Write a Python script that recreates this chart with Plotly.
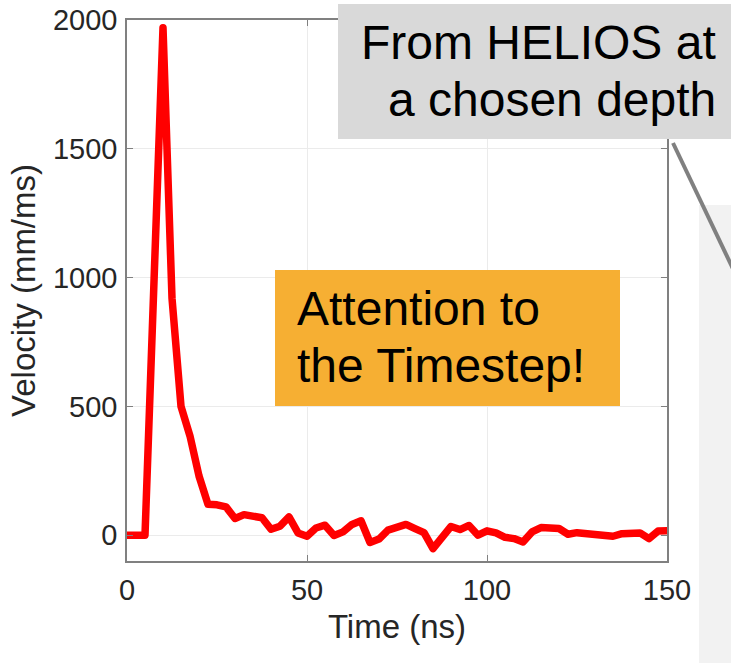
import plotly.graph_objects as go

# Velocity trace sampled at a single depth
time_ns = [0, 5, 10, 12.5, 15, 17.5, 20, 22.5, 25, 27.5, 30, 32.5, 37.5, 40, 42.5,
           45, 47.5, 50, 52.5, 55, 57.5, 60, 62.5, 65, 67.5, 70, 72.5, 77.5, 80,
           82.5, 85, 90, 92.5, 95, 97.5, 100, 102.5, 105, 107.5, 110, 112.5, 115,
           120, 122.5, 125, 130, 132.5, 135, 137.5, 142.5, 145, 147.5, 150]
velocity = [0, 0, 1970, 920, 500, 385, 230, 120, 118, 110, 65, 80, 68, 23, 35,
            71, 9, -4, 28, 39, -1, 13, 42, 56, -28, -15, 20, 42, 26,
            10, -52, 34, 22, 38, 0, 17, 9, -8, -13, -26, 13, 30,
            26, 4, 10, 4, -4, -4, 6, 9, -13, 16, 17]

x_ticks = [0, 50, 100, 150]
y_ticks = [0, 500, 1000, 1500, 2000]

W, H = 731, 663
L, R, T, B = 127, 667, 20, 561  # plot area in pixels


def px(x):
    return (x - L) / (R - L)


def py(y):
    return (B - y) / (B - T)


FONT = "Arial, Liberation Sans, sans-serif"
TXT = "#262626"

fig = go.Figure()
fig.add_trace(go.Scatter(x=time_ns, y=velocity, mode="lines",
                         line=dict(color="#ff0000", width=7.5),
                         hoverinfo="skip", showlegend=False))

axis_common = dict(showline=True, linecolor="#808080", linewidth=1.5,
                   mirror="ticks", ticks="inside", ticklen=6, tickcolor="#808080",
                   showgrid=True, gridcolor="#ebebeb", gridwidth=1,
                   zeroline=False, automargin=False,
                   tickfont=dict(family=FONT, size=29, color=TXT))

fig.update_xaxes(range=[0, 150], tickvals=x_ticks,
                 title=dict(text="Time (ns)", font=dict(family=FONT, size=33, color=TXT),
                            standoff=10),
                 ticklabelstandoff=2, **axis_common)
fig.update_yaxes(range=[-100, 2000], tickvals=y_ticks,
                 title=dict(text="Velocity (mm/ms)", font=dict(family=FONT, size=33, color=TXT),
                            standoff=7),
                 ticklabelstandoff=2, **axis_common)

shapes = [
    # light side panel
    dict(type="rect", xref="paper", yref="paper", x0=px(699), x1=px(760),
         y0=py(205), y1=py(700), fillcolor="#f2f2f2", line=dict(width=0), layer="above"),
    # connector line from the callout
    dict(type="line", xref="paper", yref="paper", x0=px(673), y0=py(143),
         x1=px(745), y1=py(294), line=dict(color="#808080", width=4), layer="above"),
    # callout box
    dict(type="rect", xref="paper", yref="paper", x0=px(338), x1=px(760),
         y0=py(139), y1=py(4), fillcolor="#d9d9d9", line=dict(width=0), layer="above"),
    # highlight box
    dict(type="rect", xref="paper", yref="paper", x0=px(275), x1=px(620),
         y0=py(406), y1=py(270), fillcolor="#f6af33", line=dict(width=0), layer="above"),
]

annotations = [
    dict(text="From HELIOS at", x=px(718), y=py(43), xanchor="right", yanchor="middle"),
    dict(text="a chosen depth", x=px(718), y=py(100), xanchor="right", yanchor="middle"),
    dict(text="Attention to", x=px(295), y=py(308), xanchor="left", yanchor="middle"),
    dict(text="the Timestep!", x=px(295), y=py(365), xanchor="left", yanchor="middle"),
]
for a in annotations:
    a.update(xref="paper", yref="paper", showarrow=False,
             font=dict(family=FONT, size=48, color="#000000"))

fig.update_layout(width=W, height=H, margin=dict(l=L, r=W - R, t=T, b=H - B, autoexpand=False),
                  paper_bgcolor="#ffffff", plot_bgcolor="#ffffff",
                  shapes=shapes, annotations=annotations)

# round joins so the sharp peak keeps a rounded tip inside the frame
round_joins = (
    "document.querySelectorAll('.scatterlayer path.js-line')"
    ".forEach(function(p){p.style.strokeLinejoin='round';p.style.strokeLinecap='round';});"
)
fig.write_html("out.html", config={"displayModeBar": False}, post_script=round_joins)
